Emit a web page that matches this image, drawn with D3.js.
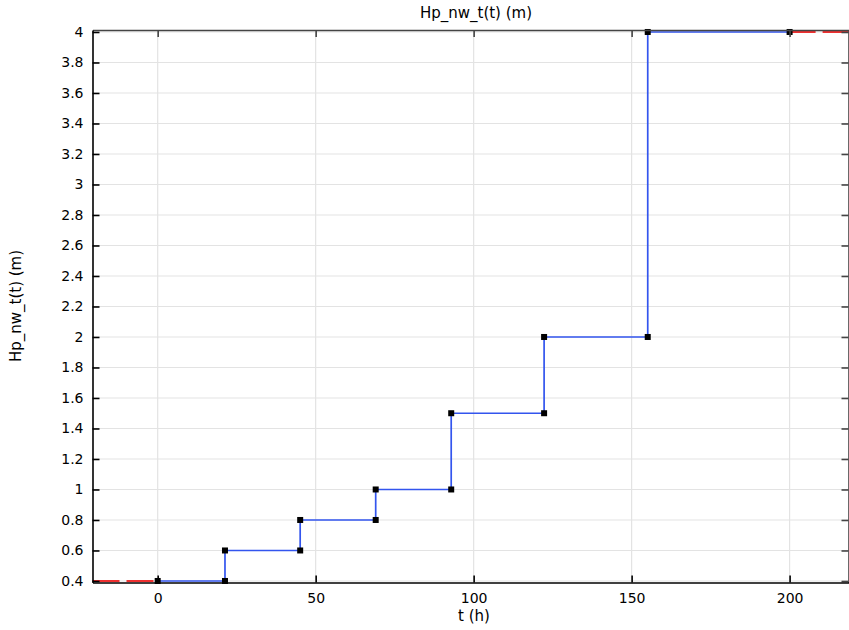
<!DOCTYPE html>
<html><head><meta charset="utf-8">
<script src="https://cdn.jsdelivr.net/npm/d3@7"></script>
<style>
html,body{margin:0;padding:0;background:#fff;}
svg{display:block;font-family:"DejaVu Sans",sans-serif;}
</style></head>
<body>
<svg id="chart" width="849" height="630"></svg>
<script>
// Data
const stepTimes = [0, 21.3, 45.1, 69.0, 92.9, 122.3, 155.1, 200];
const stepValues = [0.4, 0.6, 0.8, 1.0, 1.5, 2.0, 4.0, 4.0];
const xTicks = [0, 50, 100, 150, 200];
const yTicks = [0.4,0.6,0.8,1,1.2,1.4,1.6,1.8,2,2.2,2.4,2.6,2.8,3,3.2,3.4,3.6,3.8,4];
const xDomain = [-20.63, 218.8];
const yDomain = [0.390, 4.013];
const titleText = "Hp_nw_t(t) (m)";
const xLabelText = "t (h)";
const yLabelText = "Hp_nw_t(t) (m)";

const svg = d3.select("#chart");
const L = 92.5, R = 849, T = 30, B = 582.5;
const x = d3.scaleLinear().domain(xDomain).range([L, R]);
const y = d3.scaleLinear().domain(yDomain).range([B, T]);

// grid
const g = svg.append("g");
g.selectAll(".gx").data(xTicks).enter().append("line")
  .attr("x1", d => x(d)).attr("x2", d => x(d)).attr("y1", T).attr("y2", B)
  .attr("stroke", "#e3e3e3").attr("stroke-width", 1.2);
g.selectAll(".gy").data(yTicks).enter().append("line")
  .attr("y1", d => y(d)).attr("y2", d => y(d)).attr("x1", L).attr("x2", R)
  .attr("stroke", "#e3e3e3").attr("stroke-width", 1.2);

// step points: build step path
const pts = [];
for (let i = 0; i < stepTimes.length; i++) {
  if (i > 0 && stepValues[i] !== stepValues[i-1]) pts.push([stepTimes[i], stepValues[i-1]]);
  pts.push([stepTimes[i], stepValues[i]]);
}
const line = d3.line().x(d => x(d[0])).y(d => y(d[1]));

// extrapolation red dashed
svg.append("line").attr("x1", x(xDomain[0])).attr("x2", x(stepTimes[0]))
  .attr("y1", y(stepValues[0])).attr("y2", y(stepValues[0]))
  .attr("stroke", "#ee3030").attr("stroke-width", 2).attr("stroke-dasharray", "27,7");
svg.append("line").attr("x1", x(stepTimes[stepTimes.length-1])).attr("x2", x(xDomain[1]))
  .attr("y1", y(stepValues[stepValues.length-1])).attr("y2", y(stepValues[stepValues.length-1]))
  .attr("stroke", "#ee3030").attr("stroke-width", 2).attr("stroke-dasharray", "26,7");

svg.append("path").attr("d", line(pts)).attr("fill", "none")
  .attr("stroke", "#3355ee").attr("stroke-width", 1.7);

// markers
svg.selectAll(".m").data(pts).enter().append("rect")
  .attr("x", d => x(d[0]) - 3).attr("y", d => y(d[1]) - 3)
  .attr("width", 6).attr("height", 6).attr("fill", "#000");

// axes
const axB = d3.axisBottom(x).tickValues(xTicks).tickSize(-7).tickPadding(10.5).tickFormat(d3.format("d"));
const axL = d3.axisLeft(y).tickValues(yTicks).tickSize(-7).tickPadding(9).tickFormat(d => d3.format("~g")(d));
const axT = d3.axisTop(x).tickValues(xTicks).tickSize(-7).tickFormat("");
const axR = d3.axisRight(y).tickValues(yTicks).tickSize(-7).tickFormat("");

function style(sel, col) {
  sel.select(".domain").attr("stroke", col).attr("stroke-width", 1.6);
  sel.selectAll(".tick line").attr("stroke", col).attr("stroke-width", 1.6);
  sel.selectAll(".tick text").attr("fill", "#000").style("font-size", "14px").style("font-family", "DejaVu Sans");
}
const gt = svg.append("g").attr("transform", `translate(0,${T})`).call(axT.tickSizeOuter(0)); style(gt, "#444");
const gr = svg.append("g").attr("transform", `translate(${R-0.5},0)`).call(axR.tickSizeOuter(0)); style(gr, "#444");
const gb = svg.append("g").attr("transform", `translate(0,${B})`).call(axB.tickSizeOuter(0)); style(gb, "#000");
const gl = svg.append("g").attr("transform", `translate(${L},0)`).call(axL.tickSizeOuter(0)); style(gl, "#000");

// labels
svg.append("text").attr("x", 476).attr("y", 18).attr("text-anchor", "middle")
  .style("font-size", "15px").text(titleText);
svg.append("text").attr("x", 474).attr("y", 621).attr("text-anchor", "middle")
  .style("font-size", "15px").text(xLabelText);
svg.append("text").attr("transform", "translate(21,306) rotate(-90)").attr("text-anchor", "middle")
  .style("font-size", "15px").text(yLabelText);
</script>
</body></html>
